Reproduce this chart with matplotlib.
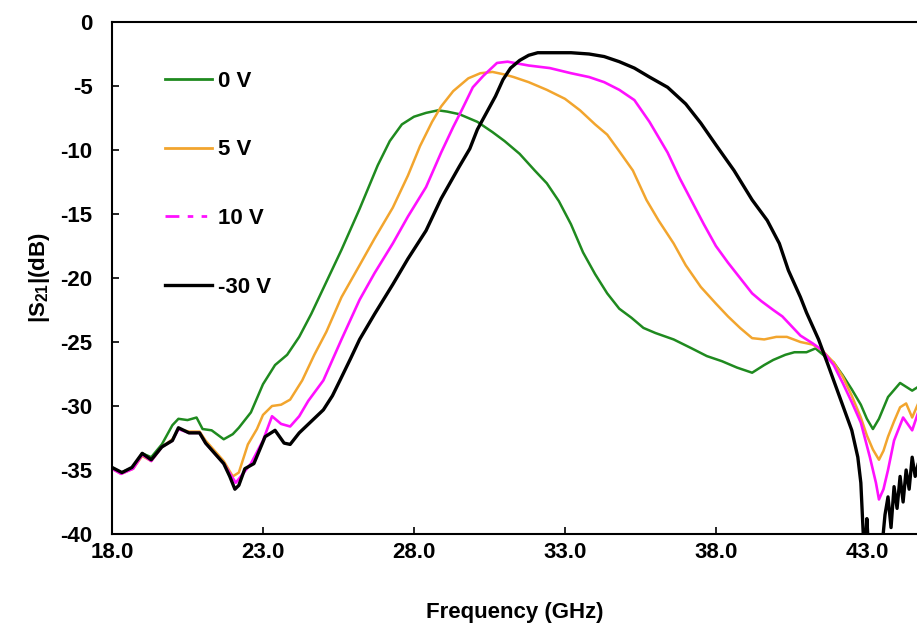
import matplotlib
matplotlib.use("Agg")
import matplotlib.pyplot as plt
from matplotlib.lines import Line2D
import numpy as np

plt.rcParams['font.family'] = ['Liberation Sans', 'DejaVu Sans']
plt.rcParams['mathtext.default'] = 'regular'

# ---- data ----
f_0v = [18.0, 18.3, 18.7, 19.0, 19.3, 19.65, 20.0, 20.2, 20.5, 20.8, 21.0, 21.3, 21.7, 22.0,
        22.2, 22.6, 23.0, 23.4, 23.8, 24.2, 24.6, 25.1, 25.6, 26.2, 26.8, 27.2, 27.6, 28.0,
        28.4, 28.8, 29.1, 29.5, 30.1, 30.6, 31.0, 31.5, 32.0, 32.4, 32.8, 33.2, 33.6, 34.0,
        34.4, 34.8, 35.2, 35.6, 36.0, 36.6, 37.2, 37.7, 38.2, 38.7, 39.2, 39.6, 39.9, 40.3,
        40.6, 41.0, 41.3, 41.6, 41.9, 42.2, 42.5, 42.8, 43.0, 43.2, 43.4, 43.7, 44.1, 44.5, 44.7]
s_0v = [-34.8, -35.2, -34.8, -33.7, -34.0, -33.0, -31.5, -31.0, -31.1, -30.9, -31.8, -31.9,
        -32.6, -32.2, -31.7, -30.5, -28.3, -26.8, -26.0, -24.6, -22.8, -20.3, -17.8, -14.6,
        -11.2, -9.3, -8.0, -7.4, -7.1, -6.9, -7.0, -7.2, -7.8, -8.6, -9.3, -10.3, -11.6, -12.6,
        -14.0, -15.8, -18.0, -19.7, -21.2, -22.4, -23.1, -23.9, -24.3, -24.8, -25.5, -26.1,
        -26.5, -27.0, -27.4, -26.8, -26.4, -26.0, -25.8, -25.8, -25.5, -26.1, -26.6, -27.6,
        -28.7, -29.9, -31.0, -31.8, -31.0, -29.3, -28.2, -28.8, -28.5]

f_5v = [18.0, 18.3, 18.7, 19.0, 19.3, 19.65, 20.0, 20.2, 20.55, 20.9, 21.1, 21.4, 21.7, 22.0,
        22.2, 22.5, 22.8, 23.0, 23.3, 23.6, 23.9, 24.3, 24.7, 25.1, 25.6, 26.2, 26.7, 27.3,
        27.8, 28.2, 28.6, 28.9, 29.3, 29.8, 30.2, 30.6, 31.0, 31.3, 31.8, 32.4, 33.0, 33.5,
        34.0, 34.4, 34.8, 35.25, 35.7, 36.1, 36.6, 37.0, 37.5, 38.0, 38.4, 38.8, 39.2, 39.6,
        40.0, 40.35, 40.8, 41.2, 41.5, 41.9, 42.2, 42.5, 42.8, 43.0, 43.2, 43.4, 43.55, 43.7,
        43.9, 44.1, 44.3, 44.5, 44.7]
s_5v = [-34.9, -35.3, -34.9, -33.9, -34.3, -33.2, -32.6, -31.8, -32.0, -32.0, -32.7, -33.5,
        -34.3, -35.5, -35.2, -33.0, -31.8, -30.7, -30.0, -29.9, -29.5, -28.0, -26.0, -24.2,
        -21.5, -19.0, -16.9, -14.5, -12.0, -9.7, -7.8, -6.6, -5.4, -4.4, -4.0, -3.9, -4.1,
        -4.3, -4.7, -5.3, -6.0, -6.9, -8.0, -8.8, -10.1, -11.6, -13.9, -15.5, -17.3, -19.0,
        -20.7, -22.0, -23.0, -23.9, -24.7, -24.8, -24.6, -24.6, -25.0, -25.2, -25.6, -26.6,
        -27.7, -29.2, -30.9, -32.3, -33.4, -34.2, -33.5, -32.4, -31.2, -30.1, -29.8, -30.9,
        -29.8]

f_10v = [18.0, 18.3, 18.7, 19.0, 19.3, 19.65, 20.0, 20.2, 20.55, 20.9, 21.1, 21.4, 21.7,
         22.1, 22.3, 22.6, 23.0, 23.3, 23.6, 23.9, 24.2, 24.5, 25.0, 25.6, 26.2, 26.7, 27.3,
         27.8, 28.4, 28.9, 29.3, 29.6, 29.95, 30.3, 30.75, 31.1, 31.8, 32.5, 33.2, 33.8, 34.3,
         34.8, 35.3, 35.8, 36.4, 36.8, 37.2, 37.6, 38.0, 38.4, 38.8, 39.2, 39.5, 39.9, 40.2,
         40.8, 41.2, 41.5, 41.9, 42.2, 42.5, 42.8, 43.1, 43.3, 43.4, 43.55, 43.7, 43.9, 44.2,
         44.5, 44.7]
s_10v = [-34.9, -35.3, -34.9, -33.8, -34.3, -33.2, -32.7, -31.8, -32.1, -32.1, -32.9, -33.7,
         -34.5, -36.0, -35.4, -34.5, -32.7, -30.8, -31.4, -31.6, -30.8, -29.6, -28.0, -24.8,
         -21.7, -19.6, -17.3, -15.2, -12.9, -10.2, -8.2, -6.8, -5.1, -4.2, -3.2, -3.1, -3.4,
         -3.6, -4.0, -4.3, -4.7, -5.3, -6.1, -7.8, -10.2, -12.2, -14.0, -15.8, -17.5, -18.8,
         -20.0, -21.2, -21.8, -22.5, -23.0, -24.5, -25.1, -25.6, -26.8, -28.2, -29.7, -31.3,
         -34.0, -36.0, -37.3, -36.5, -35.0, -32.7, -30.9, -31.9, -30.5]

f_30v = [18.0, 18.33, 18.66, 19.0, 19.3, 19.65, 20.0, 20.2, 20.55, 20.9, 21.1, 21.4, 21.7,
         21.9, 22.07, 22.2, 22.4, 22.7, 23.07, 23.4, 23.7, 23.9, 24.2, 24.6, 25.0, 25.3,
         25.55, 25.9, 26.2, 26.7, 27.3, 27.8, 28.4, 28.9, 29.5, 29.85, 30.1, 30.4, 30.7,
         30.95, 31.2, 31.5, 31.8, 32.1, 32.6, 33.2, 33.8, 34.3, 34.8, 35.3, 35.8, 36.4, 37.0,
         37.5, 38.0, 38.6, 39.2, 39.7, 40.1, 40.4, 40.8, 41.0, 41.4, 41.7, 42.1, 42.5, 42.7,
         42.8, 42.85, 42.9, 42.95, 43.0, 43.05, 43.5, 43.6, 43.7, 43.8, 43.9, 44.0, 44.1,
         44.2, 44.3, 44.4, 44.5, 44.6, 44.7]
s_30v = [-34.8, -35.2, -34.8, -33.7, -34.2, -33.2, -32.7, -31.7, -32.1, -32.1, -32.9, -33.7,
         -34.5, -35.5, -36.5, -36.2, -34.9, -34.5, -32.4, -31.9, -32.9, -33.0, -32.1, -31.2,
         -30.3, -29.2, -28.0, -26.3, -24.8, -22.8, -20.5, -18.5, -16.3, -13.8, -11.3, -9.9,
         -8.4, -7.1, -5.8, -4.5, -3.6, -3.0, -2.6, -2.4, -2.4, -2.4, -2.5, -2.7, -3.1, -3.6,
         -4.3, -5.1, -6.4, -7.9, -9.6, -11.6, -13.9, -15.5, -17.3, -19.4, -21.5, -22.7, -24.8,
         -26.7, -29.3, -31.9, -34.0, -36.0, -38.5, -41.0, -41.0, -38.8, -41.0, -41.0, -38.5,
         -37.1, -39.5, -36.3, -38.0, -35.5, -37.5, -35.0, -36.5, -34.0, -35.5, -34.5]

labels = ['0 V', '5 V', '10 V', '-30 V']
x_ticks = [18.0, 23.0, 28.0, 33.0, 38.0, 43.0]
y_ticks = [0, -5, -10, -15, -20, -25, -30, -35, -40]

# ---- figure ----
fig = plt.figure(figsize=(9.17, 6.32), dpi=100)
ax = fig.add_axes([112/917, 1-534/632, 1-112/917, (534-22)/632])

c_green = '#1f8a1f'
c_orange = '#f2a52e'
c_mag = '#ff10ff'
c_black = '#000000'

ax.plot(f_0v, s_0v, color=c_green, lw=1.8)
ax.plot(f_5v, s_5v, color=c_orange, lw=1.8)
ax.plot(f_10v, s_10v, color=c_mag, lw=1.9)
ax.plot(f_30v, s_30v, color=c_black, lw=2.4)

ax.set_xlim(18.0, 44.66)
ax.set_ylim(-40, 0)
ax.set_xticks(x_ticks)
ax.set_xticklabels([f'{v:.1f}' for v in x_ticks])
ax.set_yticks(y_ticks)
ax.set_yticklabels([str(v) for v in y_ticks])

FS = 16
ax.tick_params(direction='in', length=5, width=1.2, labelsize=FS)
ax.tick_params(axis='y', pad=14)
ax.tick_params(axis='x', pad=6)
for lab in ax.get_xticklabels() + ax.get_yticklabels():
    lab.set_fontweight('bold')

for sp in ['left', 'bottom', 'top']:
    ax.spines[sp].set_linewidth(1.5)
ax.spines['right'].set_visible(False)

ax.set_xlabel('Frequency (GHz)', fontsize=FS, fontweight='bold', labelpad=28)
ax.set_ylabel(r'|S$_{21}$|(dB)', fontsize=FS, fontweight='bold', labelpad=6)

handles = [Line2D([], [], color=c_green, lw=2.0),
           Line2D([], [], color=c_orange, lw=2.0),
           Line2D([], [], color=c_mag, lw=2.0, linestyle=(0, (5, 3, 2, 3, 2, 3))),
           Line2D([], [], color=c_black, lw=2.4)]
leg = ax.legend(handles, labels, loc='upper left', bbox_to_anchor=(0.066, 0.905),
                frameon=False, fontsize=FS, labelspacing=2.15, handlelength=2.1,
                handletextpad=0.3, borderpad=0, borderaxespad=0)
for t in leg.get_texts():
    t.set_fontweight('bold')

fig.savefig('out.png', dpi=100)
